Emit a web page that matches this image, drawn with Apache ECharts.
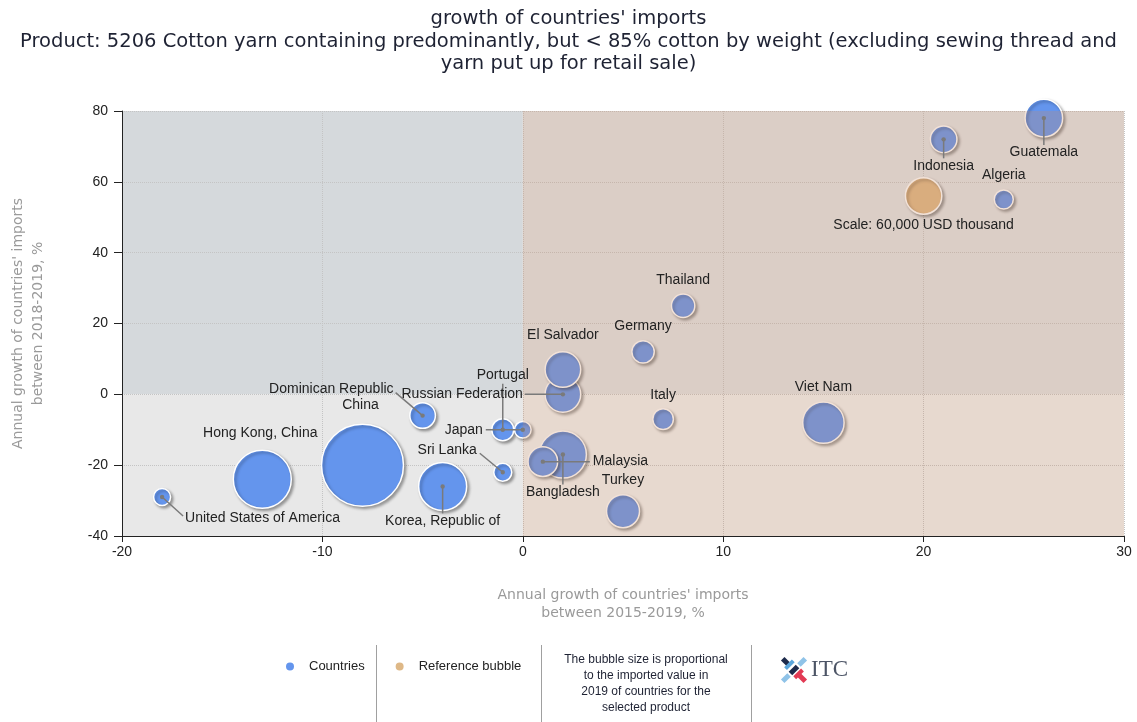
<!DOCTYPE html>
<html>
<head>
<meta charset="utf-8">
<script src="https://cdn.jsdelivr.net/npm/echarts@6/dist/echarts.min.js"></script>
<style>html,body{margin:0;padding:0;background:#fff;}#chart{width:1137px;height:722px;}</style>
</head>
<body>
<div id="chart"></div>
<script>
// ---- data ----
const countries = ['United States of America','Hong Kong, China','China','Korea, Republic of','Dominican Republic','Portugal','Japan','Sri Lanka','Russian Federation','El Salvador','Bangladesh','Malaysia','Turkey','Italy','Germany','Thailand','Viet Nam','Indonesia','Algeria','Guatemala'];
const growth2015_2019 = [-18, -13, -8, -4, -5, -1, 0, -1, 2, 2, 2, 1, 5, 7, 6, 8, 15, 21, 24, 26];
const growth2018_2019 = [-29, -24, -20, -26, -6, -10, -10, -22, 0, 7, -17, -19, -33, -7, 12, 25, -8, 72, 55, 78];
const importValue2019 = [13900, 149300, 295500, 103000, 30300, 22700, 13300, 15500, 57500, 57500, 98800, 40200, 49600, 20000, 23500, 25500, 77100, 32700, 17200, 63900];
const referenceName = 'Scale: 60,000 USD thousand';
const referenceX = [20];
const referenceY = [56];
const referenceValue = [60000];
const xTicks = [-20, -10, 0, 10, 20, 30];
const yTicks = [-40, -20, 0, 20, 40, 60, 80];

// ---- layout / styling ----
const BUBBLE_REF_PX = 37.4; // diameter of a 60,000 bubble
const sizeOf = v => BUBBLE_REF_PX * Math.sqrt(v / 60000) - 1;
// label placement relative to bubble centre (pixels)
const labelPlacement = {
  'United States of America': {dx: 23, dy: 21, align: 'left', line: [21, 19]},
  'Hong Kong, China': {dx: -2, dy: -46},
  'China': {dx: -2, dy: -60},
  'Korea, Republic of': {dx: 0, dy: 35, line: [0, 27]},
  'Dominican Republic': {dx: -29, dy: -26, align: 'right', line: [-27, -23]},
  'Portugal': {dx: 0, dy: -55, line: [0, -46]},
  'Japan': {dx: -40, dy: 0, align: 'right', line: [-37, 0]},
  'Sri Lanka': {dx: -26, dy: -22, align: 'right', line: [-23, -19]},
  'Russian Federation': {dx: -40, dy: 0, align: 'right', line: [-38, 0]},
  'El Salvador': {dx: 0, dy: -34},
  'Bangladesh': {dx: 0, dy: 38, line: [0, 30]},
  'Malaysia': {dx: 50, dy: 0, align: 'left', line: [47, 0]},
  'Turkey': {dx: 0, dy: -31},
  'Italy': {dx: 0, dy: -24},
  'Germany': {dx: 0, dy: -26},
  'Thailand': {dx: 0, dy: -26},
  'Viet Nam': {dx: 0, dy: -36},
  'Indonesia': {dx: 0, dy: 27, line: [0, 19]},
  'Algeria': {dx: 0, dy: -24},
  'Guatemala': {dx: 0, dy: 34, line: [0, 27]},
  'Scale: 60,000 USD thousand': {dx: 0, dy: 29}
};
// quadrant panels: [x0, y0, x1, y1, fill]
const panels = [
  [-20, 0, 0, 80, '#d5d9dc'],
  [-20, -40, 0, 0, '#e8e8e8'],
  [0, 0, 30, 80, '#e1e4e7'],
  [0, -40, 30, 0, '#f1f3f3']
];
const overlay = [[0, -40, 30, 80, 'rgba(205,140,100,0.25)']];

const countryData = countries.map((c, i) => [growth2015_2019[i], growth2018_2019[i], importValue2019[i], c]);
const refData = referenceX.map((x, i) => [x, referenceY[i], referenceValue[i], referenceName]);
const labelData = countryData.concat(refData);

function rectItem(params, api) {
  const p0 = api.coord([api.value(0), api.value(3)]);
  const p1 = api.coord([api.value(2), api.value(1)]);
  const src = params.seriesIndex === 0 ? panels : overlay;
  return {type: 'rect', shape: {x: p0[0], y: p0[1], width: p1[0] - p0[0], height: p1[1] - p0[1]},
          style: {fill: src[params.dataIndex][4]}};
}

const bubbleStyle = {
  borderColor: '#ffffff', borderWidth: 1.5,
  shadowColor: 'rgba(0,0,0,0.35)', shadowBlur: 3, shadowOffsetX: 2, shadowOffsetY: 2
};

const chart = echarts.init(document.getElementById('chart'), null, {renderer: 'canvas'});
chart.setOption({
  animation: false,
  backgroundColor: '#ffffff',
  title: {
    text: "growth of countries' imports\nProduct: 5206 Cotton yarn containing predominantly, but < 85% cotton by weight (excluding sewing thread and\nyarn put up for retail sale)",
    left: 'center', top: 3,
    textStyle: {fontFamily: 'DejaVu Sans', fontSize: 19.5, fontWeight: 'normal', color: '#1e2233', lineHeight: 22.5}
  },
  legend: {
    left: 279, top: 655, itemWidth: 10, itemHeight: 10, itemGap: 29, icon: 'circle',
    textStyle: {fontFamily: 'Liberation Sans', fontSize: 13, color: '#222', padding: [0, 0, 0, 9]},
    data: ['Countries', 'Reference bubble']
  },
  grid: {left: 122, right: 13, top: 111, bottom: 186, containLabel: false, outerBoundsMode: 'none'},
  xAxis: {
    type: 'value', min: -20, max: 30, interval: 10, z: 1,
    name: "Annual growth of countries' imports\nbetween 2015-2019, %",
    nameLocation: 'middle', nameGap: 50,
    nameTextStyle: {fontFamily: 'DejaVu Sans', fontSize: 14, color: '#9a9a9a', lineHeight: 18},
    axisLine: {onZero: false, lineStyle: {color: '#222', width: 1}},
    axisTick: {length: 6, lineStyle: {color: '#222'}},
    axisLabel: {fontFamily: 'Liberation Sans', fontSize: 14, color: '#222', margin: 9,
      formatter: v => xTicks.indexOf(v) >= 0 ? String(v) : ''},
    splitLine: {show: true, lineStyle: {color: '#c4c4c4', type: 'dotted'}}
  },
  yAxis: {
    type: 'value', min: -40, max: 80, interval: 20, z: 1,
    name: "Annual growth of countries' imports\nbetween 2018-2019, %",
    nameLocation: 'middle', nameGap: 74, nameRotate: 90,
    nameTextStyle: {fontFamily: 'DejaVu Sans', fontSize: 14, color: '#9a9a9a', lineHeight: 20},
    axisLine: {show: true, onZero: false, lineStyle: {color: '#222', width: 1}},
    axisTick: {show: true, length: 8, lineStyle: {color: '#222'}},
    axisLabel: {fontFamily: 'Liberation Sans', fontSize: 14, color: '#222', margin: 14,
      formatter: v => yTicks.indexOf(v) >= 0 ? String(v) : ''},
    splitLine: {show: true, lineStyle: {color: '#c4c4c4', type: 'dotted'}}
  },
  series: [
    {
      type: 'custom', name: 'panels', z: 0, silent: true, clip: false,
      data: panels.map(p => p.slice(0, 4)),
      encode: {x: [0, 2], y: [1, 3]},
      renderItem: rectItem
    },
    {
      type: 'custom', name: 'overlay', z: 5, silent: true, clip: false,
      data: overlay.map(p => p.slice(0, 4)),
      encode: {x: [0, 2], y: [1, 3]},
      renderItem: rectItem
    },
    {
      type: 'scatter', name: 'Countries', z: 2,
      data: countryData,
      symbolSize: val => sizeOf(val[2]),
      itemStyle: Object.assign({color: '#6495ed', opacity: 1}, bubbleStyle)
    },
    {
      type: 'scatter', name: 'Reference bubble', z: 2,
      data: refData,
      symbolSize: val => sizeOf(val[2]),
      itemStyle: Object.assign({color: '#deb887', opacity: 1}, bubbleStyle)
    },
    {
      type: 'custom', name: 'labels', z: 10, silent: true, clip: false,
      data: labelData.map(d => [d[0], d[1]]),
      encode: {x: 0, y: 1},
      renderItem: function (params, api) {
        const name = labelData[params.dataIndex][3];
        const p = api.coord([api.value(0), api.value(1)]);
        const L = labelPlacement[name] || {dx: 0, dy: -20};
        const children = [];
        if (L.line) {
          children.push({type: 'line', shape: {x1: p[0], y1: p[1], x2: p[0] + L.line[0], y2: p[1] + L.line[1]},
            style: {stroke: '#7a7a7a', lineWidth: 1.5}});
          children.push({type: 'circle', shape: {cx: p[0], cy: p[1], r: 2.2}, style: {fill: '#7a7a7a'}});
        }
        children.push({type: 'text', x: p[0] + L.dx, y: p[1] + L.dy,
          style: {text: name, align: L.align || 'center', verticalAlign: 'middle',
                  fill: '#222', font: '14px "Liberation Sans"'}});
        return {type: 'group', children: children};
      }
    }
  ],
  graphic: [
    {type: 'line', shape: {x1: 376.5, y1: 645, x2: 376.5, y2: 722}, style: {stroke: '#a0a0a0', lineWidth: 1}},
    {type: 'line', shape: {x1: 541.5, y1: 645, x2: 541.5, y2: 722}, style: {stroke: '#a0a0a0', lineWidth: 1}},
    {type: 'line', shape: {x1: 751.5, y1: 645, x2: 751.5, y2: 722}, style: {stroke: '#a0a0a0', lineWidth: 1}},
    {type: 'text', x: 646, y: 652, style: {
      text: 'The bubble size is proportional\nto the imported value in\n2019 of countries for the\nselected product',
      align: 'center', verticalAlign: 'top', lineHeight: 16, fill: '#1e2233', font: '12px "Liberation Sans"'}},
    {type: 'group', x: 794, y: 670, children: [
      {type: 'rect', rotation: Math.PI / 4, shape: {x: -16, y: -2.5, width: 9, height: 5}, style: {fill: '#8fc3e8'}},
      {type: 'rect', rotation: Math.PI / 4, shape: {x: -5, y: -2.5, width: 10, height: 5}, style: {fill: '#1d2b4c'}},
      {type: 'rect', rotation: Math.PI / 4, shape: {x: 7, y: -2.5, width: 9, height: 5}, style: {fill: '#8fc3e8'}},
      {type: 'rect', rotation: -Math.PI / 4, shape: {x: -16, y: -2.5, width: 9, height: 5}, style: {fill: '#1d2b4c'}},
      {type: 'rect', rotation: -Math.PI / 4, shape: {x: 7, y: -2.5, width: 9, height: 5}, style: {fill: '#e23a54'}},
      {type: 'rect', rotation: Math.PI / 4, shape: {x: -5, y: 4, width: 11, height: 4}, style: {fill: '#e23a54'}},
      {type: 'rect', rotation: Math.PI / 4, shape: {x: -5, y: -9, width: 11, height: 4}, style: {fill: '#5aa6dc'}}
    ]},
    {type: 'text', x: 811, y: 670, style: {text: 'ITC', verticalAlign: 'middle', align: 'left',
      fill: '#4d5566', font: '23px "Liberation Serif"'}}
  ]
});
</script>
</body>
</html>
